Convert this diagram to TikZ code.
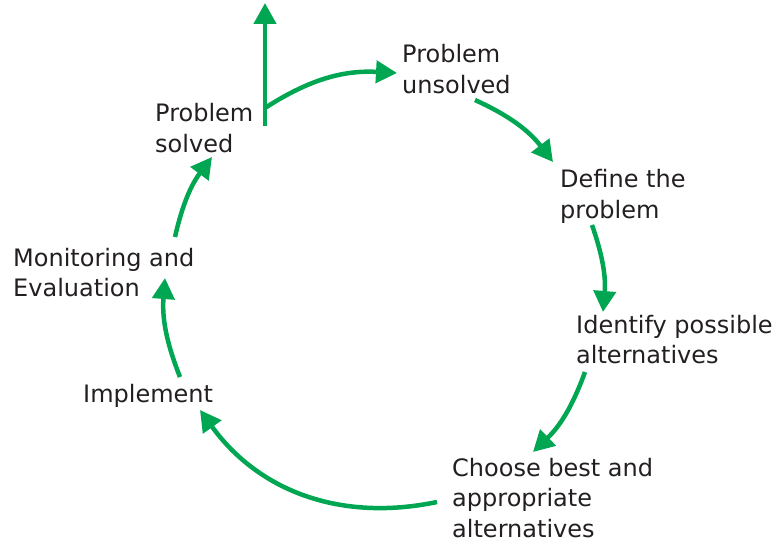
\documentclass[tikz,border=0pt]{standalone}
\usepackage{fontspec}
\setmainfont{DejaVu Sans}
\usetikzlibrary{arrows.meta, positioning}
\definecolor{cyclegreen}{RGB}{0,166,81}
\definecolor{labeltext}{RGB}{35,31,32}
\begin{document}
\begin{tikzpicture}[x=1pt, y=1pt, >={Triangle[length=21pt, width=22pt]}]
    % Estilos para las etapas y las flechas del ciclo
    \tikzstyle{stage} = [anchor=base west, inner sep=0pt, align=left, text=labeltext, font=\fontsize{24}{30.5}\selectfont]
    \tikzstyle{flow} = [->, draw=cyclegreen, line width=4.5pt]

    \useasboundingbox (0,0) rectangle (774,542);

    % Etapas del ciclo (la base es la de la ultima linea)
    \node [stage] (unsolved) at (402,448.5) {Problem\\unsolved};
    \node [stage] (define) at (560,323.5) {Define the\\problem};
    \node [stage] (identify) at (576,178.5) {Identify possible\\alternatives};
    \node [stage] (choose) at (452,5) {Choose best and\\appropriate\\alternatives};
    \node [stage] (implement) at (83,140) {Implement};
    \node [stage] (monitor) at (13,245.5) {Monitoring and\\Evaluation};
    \node [stage] (solved) at (155,389.5) {Problem\\solved};

    % Puntos de salida y llegada de las flechas
    \coordinate (fork) at ([shift={(110,26.5)}]solved.base west);
    \coordinate (forkbend) at ([shift={(110,44.5)}]solved.base west);
    \coordinate (exit) at ([shift={(110,149.5)}]solved.base west);
    \coordinate (unsolvedin) at ([shift={(-5,20.5)}]unsolved.base west);
    \coordinate (unsolvedout) at ([shift={(73,-6.5)}]unsolved.base west);
    \coordinate (definein) at ([shift={(-7,56.5)}]define.base west);
    \coordinate (defineout) at ([shift={(32,-6.5)}]define.base west);
    \coordinate (identifyin) at ([shift={(27,51.5)}]identify.base west);
    \coordinate (identifyout) at ([shift={(9,-8.5)}]identify.base west);
    \coordinate (choosein) at ([shift={(81,85)}]choose.base west);
    \coordinate (chooseout) at ([shift={(-15,35)}]choose.base west);
    \coordinate (implementin) at ([shift={(117,-8)}]implement.base west);
    \coordinate (implementout) at ([shift={(97,25)}]implement.base west);
    \coordinate (monitorin) at ([shift={(152,18.5)}]monitor.base west);
    \coordinate (monitorout) at ([shift={(162,59.5)}]monitor.base west);
    \coordinate (solvedin) at ([shift={(57,-4.5)}]solved.base west);

    \draw[flow] (fork) -- (exit);
    \draw[flow] (forkbend) to[bend left=18] (unsolvedin);
    \draw[flow] (unsolvedout) to[bend left=14] (definein);
    \draw[flow] (defineout) to[bend left=12] (identifyin);
    \draw[flow] (identifyout) to[bend left=13] (choosein);
    \draw[flow] (chooseout) to[bend left=33] (implementin);
    \draw[flow] (implementout) to[bend left=13] (monitorin);
    \draw[flow] (monitorout) to[bend left=12] (solvedin);
\end{tikzpicture}
\end{document}
